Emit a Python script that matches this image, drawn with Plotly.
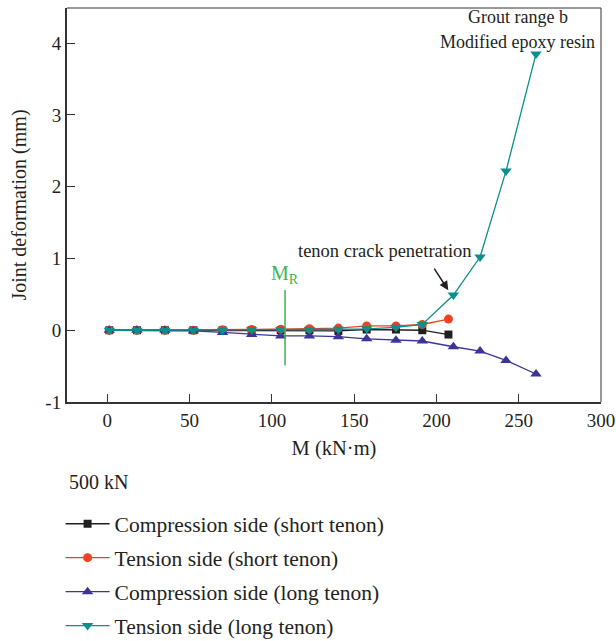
import plotly.graph_objects as go

# ---- data ----
m_short = [1.2, 18, 35, 52.3, 70, 87.7, 105.4, 122.8, 140.4, 157.6, 175.4, 191.4, 207.3]
comp_short = [0, 0, 0, 0, 0, 0, 0, 0, -0.01, 0.01, 0.01, 0.0, -0.06]
tens_short = [0, 0, 0, 0, 0.005, 0.01, 0.015, 0.02, 0.03, 0.06, 0.06, 0.08, 0.155]

m_long = [1.2, 18, 35, 52.3, 70, 87.7, 105.4, 122.8, 140.4, 157.6, 175.4, 191.4, 210.3, 226.5, 242.3, 260.5]
comp_long = [0, 0, 0, -0.01, -0.03, -0.06, -0.08, -0.08, -0.09, -0.12, -0.14, -0.15, -0.23, -0.29, -0.42, -0.61]
tens_long = [0, 0, 0, 0, 0, 0.005, 0.005, 0.01, 0.014, 0.02, 0.04, 0.08, 0.49, 1.02, 2.22, 3.85]

mr_x = 108
mr_y = [-0.49, 0.56]

x_ticks = [0, 50, 100, 150, 200, 250, 300]
y_ticks = [-1, 0, 1, 2, 3, 4]

FONT = "Liberation Serif"
TXT = "#231f20"

series = [
    ("Compression side (short tenon)", m_short, comp_short, "#231f20", "square", 8),
    ("Tension side (short tenon)", m_short, tens_short, "#ef4123", "circle", 9),
    ("Compression side (long tenon)", m_long, comp_long, "#3b3598", "triangle-up", 10),
    ("Tension side (long tenon)", m_long, tens_long, "#0a8f8c", "triangle-down", 10),
]

fig = go.Figure()
for i, (name, xs, ys, col, sym, sz) in enumerate(series):
    fig.add_trace(go.Scatter(
        x=xs, y=ys, name=name, mode="lines+markers",
        line=dict(color=col, width=1.3),
        marker=dict(symbol=sym, size=sz, color=col),
        legendgroup=f"g{i}",
    ))

# M_R line
fig.add_shape(type="line", x0=mr_x, x1=mr_x, y0=mr_y[0], y1=mr_y[1],
              xref="x", yref="y", line=dict(color="#3db54a", width=1.5))
fig.add_annotation(x=mr_x, y=0.78, text="M<sub>R</sub>", showarrow=False,
                   font=dict(family=FONT, size=20, color="#3db54a"), xref="x", yref="y")

# frame top/right
fig.add_shape(type="line", xref="paper", yref="paper", x0=0, x1=1, y0=1, y1=1,
              line=dict(color="#333", width=1))
fig.add_shape(type="line", xref="paper", yref="paper", x0=1, x1=1, y0=0, y1=1,
              line=dict(color="#333", width=1))

# annotations
fig.add_annotation(x=207.2, y=0.558, ax=-15, ay=-23, text="", showarrow=True,
                   arrowhead=2, arrowsize=1.2, arrowwidth=1.5, arrowcolor=TXT,
                   xref="x", yref="y")
fig.add_annotation(x=168.7, y=1.10, text="tenon crack penetration", showarrow=False,
                   font=dict(family=FONT, size=18.5, color=TXT), xref="x", yref="y")
fig.add_annotation(x=249.5, y=4.37, text="Grout range b", showarrow=False,
                   font=dict(family=FONT, size=18, color=TXT), xref="x", yref="y")
fig.add_annotation(x=249.5, y=4.02, text="Modified epoxy resin", showarrow=False,
                   font=dict(family=FONT, size=18, color=TXT), xref="x", yref="y")
fig.add_annotation(x=0, y=-0.203, xref="paper", yref="paper", text="500 kN",
                   showarrow=False, xanchor="left", yanchor="middle",
                   font=dict(family=FONT, size=20, color=TXT))

fig.update_layout(
    width=616, height=641,
    margin=dict(l=67, r=15, t=8, b=239, autoexpand=False),
    paper_bgcolor="white", plot_bgcolor="white",
    font=dict(family=FONT, size=18, color=TXT),
    showlegend=True,
    legend=dict(
        x=-0.012, y=-0.257, xanchor="left", yanchor="top",
        font=dict(family=FONT, size=21.5, color=TXT),
        tracegroupgap=3, itemwidth=44, bgcolor="rgba(0,0,0,0)",
    ),
    xaxis=dict(
        range=[-24.5, 300], tickvals=x_ticks, ticktext=[str(v) for v in x_ticks],
        ticks="inside", ticklen=8, tickwidth=1, tickcolor="#333",
        showline=True, linecolor="#333", linewidth=2, showgrid=False, zeroline=False,
        title=dict(text="M (kN·m)", font=dict(family=FONT, size=20.5), standoff=11),
        tickfont=dict(family=FONT, size=19), automargin=False,
    ),
    yaxis=dict(
        range=[-1, 4.49], tickvals=y_ticks, ticktext=[str(v) for v in y_ticks],
        ticks="inside", ticklen=8, tickwidth=1, tickcolor="#333",
        showline=True, linecolor="#333", linewidth=2, showgrid=False, zeroline=False,
        title=dict(text="Joint deformation (mm)", font=dict(family=FONT, size=20), standoff=13),
        tickfont=dict(family=FONT, size=19), automargin=False,
    ),
)

fig.write_html(
    "out.html",
    post_script="document.body.style.margin='0';document.body.style.overflow='hidden';",
)
